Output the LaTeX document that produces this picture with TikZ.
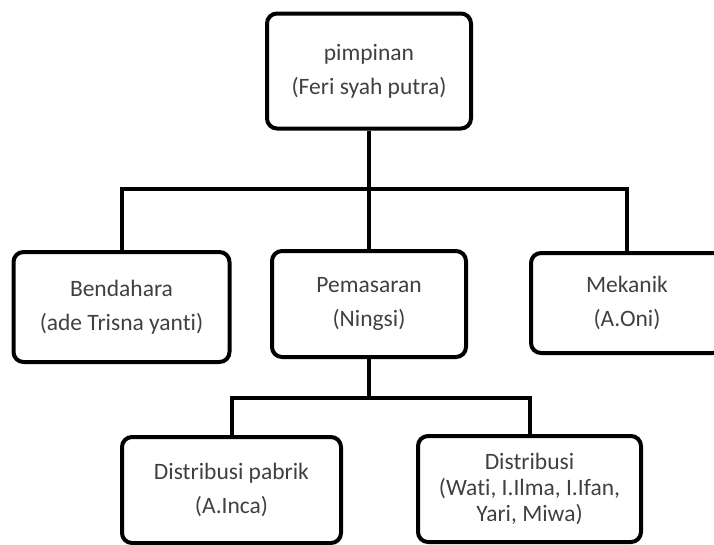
\documentclass[tikz,border=0pt]{standalone}
\usepackage{fontspec}
\setmainfont{Carlito}[Ligatures=NoCommon]
\begin{document}
\begin{tikzpicture}[x=1pt,y=-1pt,
  orgbox/.style={draw=black, line width=4pt, rounded corners=10pt, inner sep=0pt,
    align=center, text=black!75, font=\fontsize{23.5}{34}\selectfont},
  link/.style={draw=black, line width=4pt}]
\useasboundingbox (0,0) rectangle (714,544);
\clip (0,0) rectangle (714,544);
\node[orgbox, minimum width=204pt, minimum height=115pt] (top) at (369,71) {pimpinan\\(Feri syah putra)};
\node[orgbox, minimum width=216pt, minimum height=110pt] (bend) at (121.5,307) {Bendahara\\(ade Trisna yanti)};
\node[orgbox, minimum width=194pt, minimum height=106pt] (pem) at (369,304) {Pemasaran\\(Ningsi)};
\node[orgbox, minimum width=192pt, minimum height=100pt] (mek) at (627,303) {Mekanik\\(A.Oni)};
\node[orgbox, minimum width=219pt, minimum height=106pt] (dp) at (231.5,490) {Distribusi pabrik\\(A.Inca)};
\node[orgbox, minimum width=223pt, minimum height=106pt, font=\fontsize{23.5}{26}\selectfont] (dist) at (529.5,489) {Distribusi\\(Wati, I.Ilma, I.Ifan,\\Yari, Miwa)};
\coordinate (b1) at (369,189);
\coordinate (b2) at (369,398);
\draw[link] (top.south) -- (b1);
\draw[link] (bend.north) |- (b1) -| (mek.north);
\draw[link] (b1) -- (pem.north);
\draw[link] (pem.south) -- (b2);
\draw[link] (dp.north) |- (b2) -| (dist.north);
\end{tikzpicture}
\end{document}
